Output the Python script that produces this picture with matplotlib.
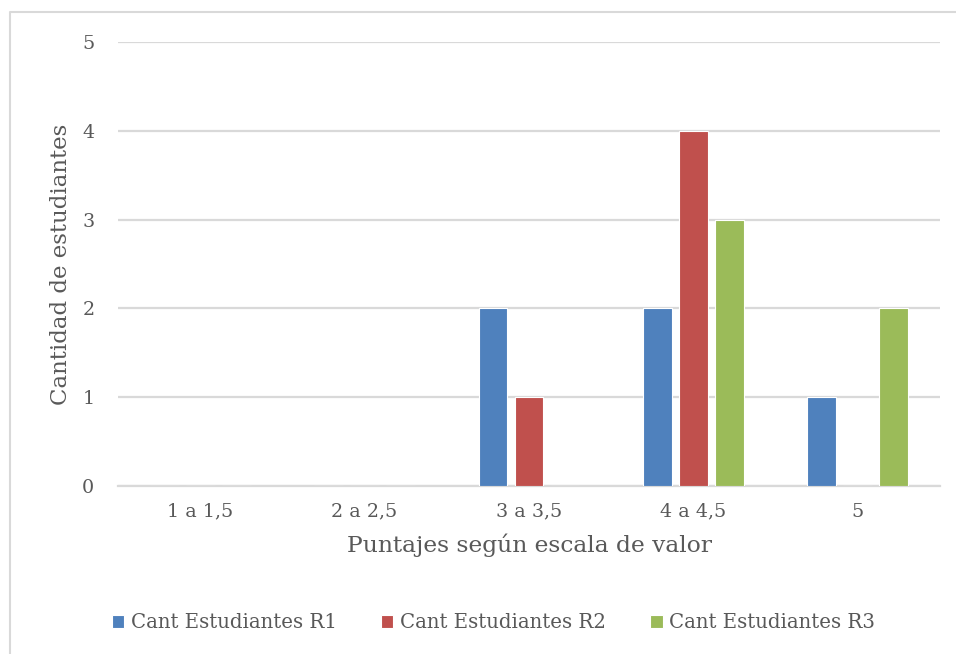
import matplotlib.pyplot as plt
from matplotlib.lines import Line2D
import numpy as np

categorias = ['1 a 1,5', '2 a 2,5', '3 a 3,5', '4 a 4,5', '5']
r1 = [0, 0, 2, 2, 1]
r2 = [0, 0, 1, 4, 0]
r3 = [0, 0, 0, 3, 2]
series = ['Cant Estudiantes R1', 'Cant Estudiantes R2', 'Cant Estudiantes R3']
colores = ['#4f81bd', '#c0504d', '#9bbb59']

plt.rcParams['font.family'] = ['DejaVu Serif']
gris = '#595959'

fig = plt.figure(figsize=(9.56, 6.54), dpi=100)
ax = fig.add_axes([0.1234, 0.2569, 0.8599, 0.6789])

x = np.arange(len(categorias))
ancho = 0.176
paso = 0.219
for i, (vals, nombre, c) in enumerate(zip([r1, r2, r3], series, colores)):
    ax.bar(x + (i - 1) * paso, vals, ancho, color=c, edgecolor='white',
           linewidth=0.8, label=nombre, zorder=3)

ax.set_xlim(-0.5, len(categorias) - 0.5)
ax.set_ylim(0, 5)
ax.set_yticks(range(6))
ax.set_xticks(x)
ax.set_xticklabels(categorias)
ax.grid(axis='y', color='#d9d9d9', linewidth=1.6, zorder=0)
for s in ['top', 'right', 'left']:
    ax.spines[s].set_visible(False)
ax.spines['bottom'].set_color('#d9d9d9')
ax.spines['bottom'].set_linewidth(1.6)
ax.tick_params(length=0, labelsize=13.75, colors=gris)
ax.tick_params(axis='x', pad=12)
ax.tick_params(axis='y', pad=17)

ax.set_xlabel('Puntajes según escala de valor', fontsize=16.8, color=gris, labelpad=9)
ax.set_ylabel('Cantidad de estudiantes', fontsize=16.5, color=gris, labelpad=7)

leg = fig.legend(loc='center', bbox_to_anchor=(493.5 / 956, 1 - 623 / 654), ncol=3,
                 frameon=False, fontsize=14.2, handlelength=0.65, handleheight=0.65,
                 handletextpad=0.35, columnspacing=2.2)
for t in leg.get_texts():
    t.set_color(gris)

# marco exterior: solo borde superior e izquierdo quedan dentro de la imagen
x0, y0 = 10 / 956, 1 - 12 / 654
fig.lines.append(Line2D([x0, x0, 1.0], [0.0, y0, y0], transform=fig.transFigure,
                        color='#d9d9d9', linewidth=1.5))

fig.savefig('out.png', dpi=100)
